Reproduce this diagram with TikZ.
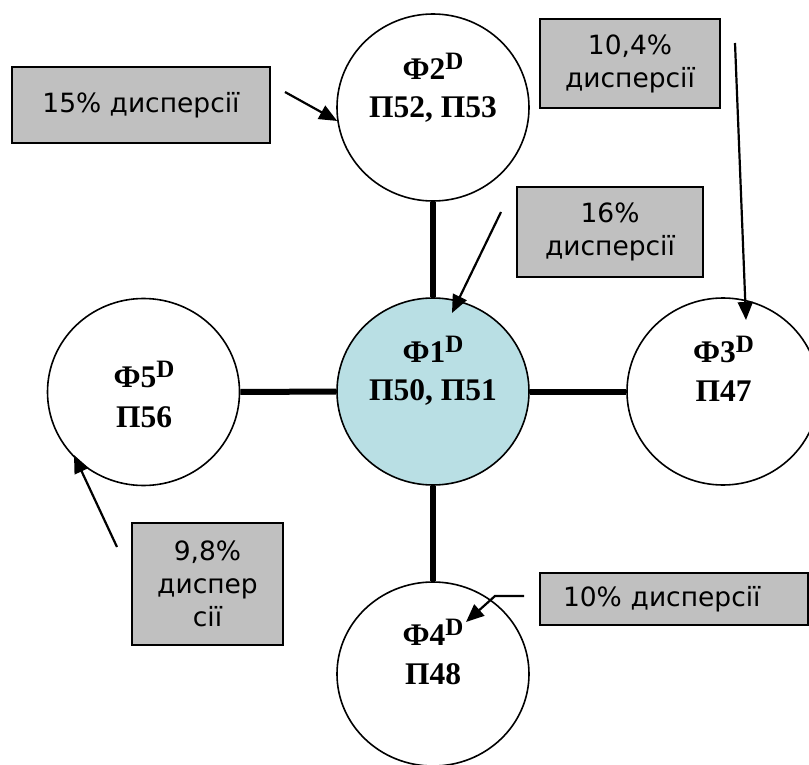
\documentclass[tikz,border=0pt]{standalone}
\usepackage{fontspec}
\setmainfont{Liberation Serif}
\newfontfamily\boxfont{DejaVu Sans}
\usetikzlibrary{shapes.geometric,arrows.meta,calc}
\definecolor{boxgray}{HTML}{C0C0C0}
\definecolor{fonefill}{HTML}{B9DFE4}
\newcommand{\supD}{\raisebox{10pt}{\fontsize{25}{25}\selectfont D}}
\begin{document}
\begin{tikzpicture}[x=1pt,y=-1pt,
  factor/.style={ellipse,draw=black,line width=1.6pt,minimum width=192pt,minimum height=187pt,inner sep=0pt,fill=white},
  ftext/.style={anchor=base,inner sep=0pt,font=\fontsize{31.5}{31.5}\selectfont\bfseries},
  pbox/.style={draw=black,line width=2pt,fill=boxgray,inner sep=0pt,font=\boxfont\fontsize{26.5}{33}\selectfont,align=center},
  link/.style={line width=6pt},
  arr/.style={line width=2.2pt,-{Triangle[length=18pt,width=15pt]}}
]
\useasboundingbox (0,0) rectangle (809,765);

% factor circles
\node[factor,fill=fonefill] (f1) at (433,391.5) {};
\node[factor] (f2) at (433,107.5) {};
\node[factor] (f3) at (723,391.5) {};
\node[factor,minimum height=184pt] (f4) at (433,674) {};
\node[factor] (f5) at (143.5,392) {};

% thick links
\draw[link] (f2) -- (f1);
\draw[link] (f1) -- (f3);
\draw[link] (f5) -- (f1);
\draw[link] (f1) -- (f4);

% circle texts
\node[ftext] (f1a) at (433,362) {Ф1\supD};
\node[ftext] (f1b) at (433,400) {П50, П51};
\node[ftext] (f2a) at (433,80) {Ф2\supD};
\node[ftext] (f2b) at (433,118) {П52, П53};
\node[ftext] (f3a) at (723.5,362) {Ф3\supD};
\node[ftext] (f3b) at (723.5,401) {П47};
\node[ftext] (f4a) at (433,645) {Ф4\supD};
\node[ftext] (f4b) at (433,684) {П48};
\node[ftext] (f5a) at (144,387) {Ф5\supD};
\node[ftext] (f5b) at (144,427) {П56};

% variance boxes
\node[pbox,minimum width=258pt,minimum height=76pt] (b15) at (141,105) {15\% дисперсії};
\node[pbox,minimum width=180pt,minimum height=89pt] (b104) at (630,63.5) {10,4\%\\дисперсії};
\node[pbox,minimum width=186pt,minimum height=90pt] (b16) at (610,232) {16\%\\дисперсії};
\node[pbox,minimum width=151pt,minimum height=122pt] (b98) at (207.5,584) {9,8\%\\диспер\\сії};
\node[pbox,text width=222pt,inner xsep=23pt,minimum height=52pt,align=left] (b10) at (674,599) {10\% дисперсії};

% arrow ends
\coordinate (s15) at (285,92);
\coordinate (s104) at (735,43);
\coordinate (t3) at (746,320);
\coordinate (s16) at (501,212);
\coordinate (t1) at (452,313);
\coordinate (s98) at (117,547);
\coordinate (t5) at (74,455);
\coordinate (s10) at (524,596);
\coordinate (k10) at (495,596);
\coordinate (t4) at (466,622);

\draw[arr] (s15) -- (f2.188);
\draw[arr] (s104) -- (t3);
\draw[arr] (s16) -- (t1);
\draw[arr] (s98) -- (t5);
\draw[arr] (s10) -- (k10) -- (t4);
\end{tikzpicture}
\end{document}
